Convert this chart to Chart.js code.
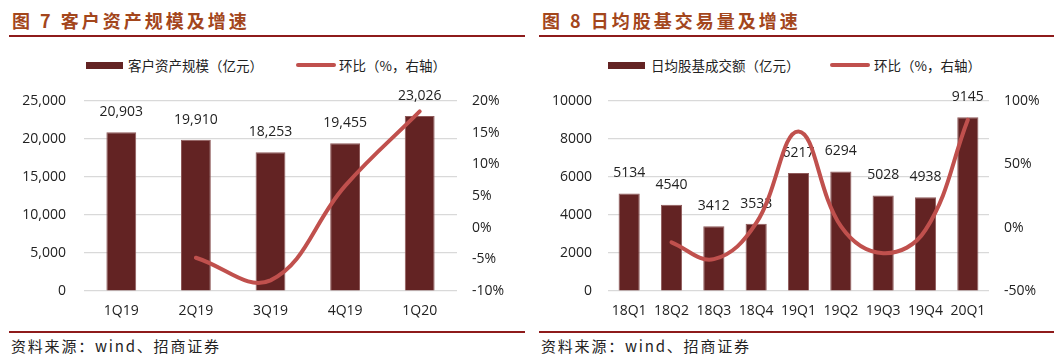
<!DOCTYPE html>
<html>
<head>
<meta charset="utf-8">
<script src="https://cdn.jsdelivr.net/npm/chart.js@4.4.1/dist/chart.umd.min.js"></script>
<style>
  html, body { margin: 0; padding: 0; background: #fff; }
  body { width: 1063px; height: 360px; position: relative; overflow: hidden;
         font-family: "Noto Sans CJK SC", "Noto Sans", sans-serif; color: #222; }
  .panel { position: absolute; top: 0; height: 360px; }
  .title { position: absolute; top: 7px; font-size: 18px; font-weight: bold;
           color: #a3461c; letter-spacing: 3px; white-space: nowrap; line-height: 26px; }
  .rule { position: absolute; height: 2px; background: #8e1b1b; }
  .legend { position: absolute; top: 55px; height: 20px; font-size: 13.5px; line-height: 20px; white-space: nowrap; }
  .legend .sw-bar { position: absolute; top: 7px; width: 37px; height: 7px; background: #632323; }
  .legend .sw-line { position: absolute; top: 8px; width: 40px; height: 4px; border-radius: 2px; background: #c0504d; }
  .legend .txt { position: absolute; top: 0; }
  .plot { position: absolute; top: 85px; height: 240px; }
  .note { position: absolute; top: 335px; font-size: 15px; letter-spacing: 1.8px; color: #222; white-space: nowrap; }
</style>
</head>
<body>

<!-- left panel -->
<div class="panel" style="left:0;width:530px;">
  <div class="title" style="left:12px;">图 7 客户资产规模及增速</div>
  <div class="rule" style="left:9px;width:516px;top:35px;"></div>
  <div class="legend" style="left:0;width:530px;">
    <div class="sw-bar" style="left:86px;"></div>
    <div class="txt" style="left:128px;">客户资产规模（亿元）</div>
    <div class="sw-line" style="left:296px;"></div>
    <div class="txt" style="left:339px;">环比（%，右轴）</div>
  </div>
  <div class="plot" style="left:0;width:530px;"><canvas id="assetChart"></canvas></div>
  <div class="rule" style="left:9px;width:516px;top:331px;"></div>
  <div class="note" style="left:11px;">资料来源：wind、招商证券</div>
</div>

<!-- right panel -->
<div class="panel" style="left:530px;width:533px;">
  <div class="title" style="left:12px;">图 8 日均股基交易量及增速</div>
  <div class="rule" style="left:9px;width:515px;top:35px;"></div>
  <div class="legend" style="left:0;width:533px;">
    <div class="sw-bar" style="left:78px;"></div>
    <div class="txt" style="left:121px;">日均股基成交额（亿元）</div>
    <div class="sw-line" style="left:300px;"></div>
    <div class="txt" style="left:344px;">环比（%，右轴）</div>
  </div>
  <div class="plot" style="left:0;width:533px;"><canvas id="tradeChart"></canvas></div>
  <div class="rule" style="left:9px;width:515px;top:331px;"></div>
  <div class="note" style="left:11px;">资料来源：wind、招商证券</div>
</div>

<script>
// ===== data =====
const assetQuarters = ['1Q19', '2Q19', '3Q19', '4Q19', '1Q20'];
const assetValues = [20903, 19910, 18253, 19455, 23026];
const assetQoQ = [null, -4.75, -8.32, 6.59, 18.35];

const tradeQuarters = ['18Q1', '18Q2', '18Q3', '18Q4', '19Q1', '19Q2', '19Q3', '19Q4', '20Q1'];
const tradeValues = [5134, 4540, 3412, 3533, 6217, 6294, 5028, 4938, 9145];
const tradeQoQ = [null, -11.57, -24.85, 3.55, 75.97, 1.24, -20.11, -1.79, 85.20];

const BAR_COLOR = '#632323';
const LINE_COLOR = '#c0504d';
const GRID_COLOR = '#d9d9d9';
const TICK_FONT = { family: '"Open Sans", "Noto Sans", sans-serif', size: 14 };

// value labels above bars (drawn before the line so the line sits on top)
const barLabels = {
    id: 'barLabels',
    afterDatasetDraw(chart, args, opts) {
        if (args.meta.type !== 'bar') return;
        const ctx = chart.ctx;
        const values = chart.data.datasets[args.index].data;
        ctx.save();
        ctx.font = '14px "Open Sans", "Noto Sans", sans-serif';
        ctx.fillStyle = '#222';
        ctx.textAlign = 'center';
        ctx.textBaseline = 'middle';
        args.meta.data.forEach((bar, i) => {
            const v = values[i];
            const txt = opts.comma ? v.toLocaleString('en-US') : String(v);
            ctx.fillText(txt, bar.x, bar.y - 20);
        });
        ctx.restore();
    }
};

// fixed side axis width; drop the label padding so layout padding sets the top
function fixSide(width) {
    return function(scale) {
        scale.width = width;
        scale.paddingTop = 0;
        scale.paddingBottom = 0;
    };
}

function makeChart(id, cfg) {
    const el = document.getElementById(id);
    return new Chart(el, {
        type: 'bar',
        data: {
            labels: cfg.labels,
            datasets: [{
                type: 'line',
                data: cfg.qoq,
                yAxisID: 'y1',
                borderColor: LINE_COLOR,
                borderWidth: 4,
                borderCapStyle: 'round',
                pointRadius: 0,
                tension: 0.4,
                order: 0
            }, {
                type: 'bar',
                data: cfg.values,
                yAxisID: 'y',
                backgroundColor: BAR_COLOR,
                borderColor: '#8f5a5a',
                borderWidth: 1,
                categoryPercentage: 1,
                barPercentage: cfg.barPct,
                order: 1
            }]
        },
        options: {
            responsive: true,
            maintainAspectRatio: false,
            animation: false,
            layout: { padding: { top: 16, left: 0, right: 0, bottom: 0 } },
            plugins: {
                legend: { display: false },
                tooltip: { enabled: false },
                barLabels: { comma: cfg.comma }
            },
            scales: {
                x: {
                    grid: { display: false, drawTicks: false },
                    border: { display: false },
                    ticks: { color: '#222', font: TICK_FONT, padding: 12, maxRotation: 0, autoSkip: false },
                    afterFit(scale) { scale.height = 34; }
                },
                y: {
                    position: 'left',
                    min: 0,
                    max: cfg.yMax,
                    grid: { color: GRID_COLOR, lineWidth: 1.2, drawTicks: false },
                    border: { display: false },
                    ticks: {
                        stepSize: cfg.yStep,
                        color: '#222',
                        font: TICK_FONT,
                        padding: cfg.padL,
                        callback: v => cfg.comma ? v.toLocaleString('en-US') : String(v)
                    },
                    afterFit: fixSide(cfg.wL)
                },
                y1: {
                    position: 'right',
                    min: cfg.pMin,
                    max: cfg.pMax,
                    grid: { display: false, drawTicks: false },
                    border: { display: false },
                    ticks: {
                        stepSize: cfg.pStep,
                        color: '#222',
                        font: TICK_FONT,
                        padding: cfg.padR,
                        callback: v => v + '%'
                    },
                    afterFit: fixSide(cfg.wR)
                }
            }
        },
        plugins: [barLabels]
    });
}

makeChart('assetChart', {
    labels: assetQuarters, values: assetValues, qoq: assetQoQ,
    barPct: 0.40, comma: true,
    yMax: 25000, yStep: 5000, pMin: -10, pMax: 20, pStep: 5,
    wL: 84, wR: 73, padL: 18, padR: 15
});

makeChart('tradeChart', {
    labels: tradeQuarters, values: tradeValues, qoq: tradeQoQ,
    barPct: 0.50, comma: false,
    yMax: 10000, yStep: 2000, pMin: -50, pMax: 100, pStep: 50,
    wL: 78, wR: 74, padL: 16, padR: 15
});
</script>
</body>
</html>
